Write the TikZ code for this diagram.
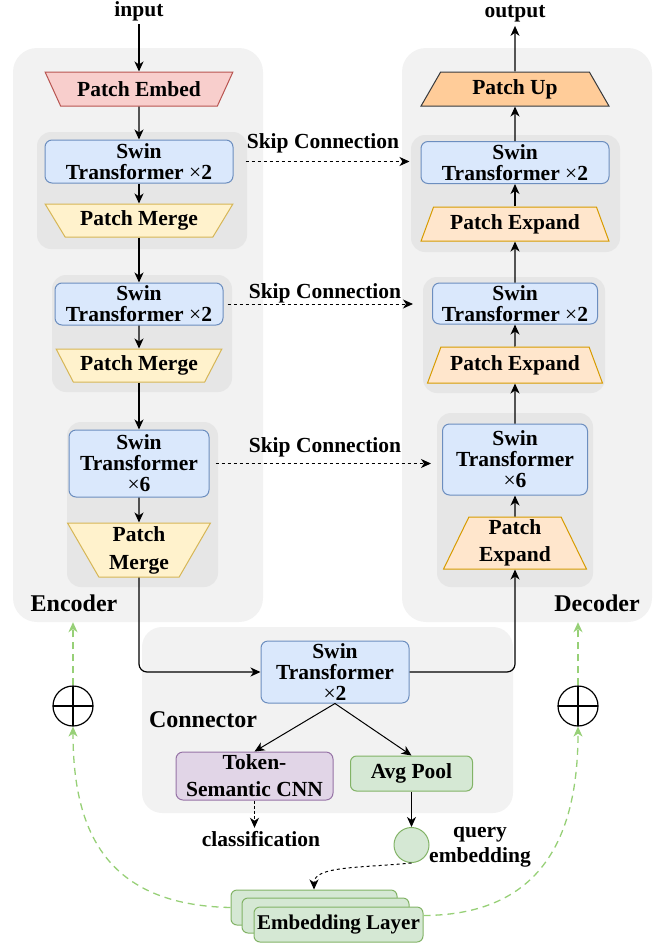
\documentclass[tikz,border=0pt]{standalone}
\usepackage{fontspec}
\setmainfont{Liberation Serif}
\usepackage{tikz}
\usetikzlibrary{positioning, arrows.meta, shapes.geometric, calc}

\definecolor{panelgray}{HTML}{F2F2F2}
\definecolor{groupgray}{HTML}{E6E6E6}
\definecolor{swinfill}{HTML}{DAE8FC}
\definecolor{swinline}{HTML}{6C8EBF}
\definecolor{embedfill}{HTML}{F8CECC}
\definecolor{embedline}{HTML}{B85450}
\definecolor{mergefill}{HTML}{FFF2CC}
\definecolor{mergeline}{HTML}{D6B656}
\definecolor{upfill}{HTML}{FFCC99}
\definecolor{upline}{HTML}{36393D}
\definecolor{expfill}{HTML}{FFE6CC}
\definecolor{expline}{HTML}{D79B00}
\definecolor{cnnfill}{HTML}{E1D5E7}
\definecolor{cnnline}{HTML}{9673A6}
\definecolor{poolfill}{HTML}{D5E8D4}
\definecolor{poolline}{HTML}{82B366}
\definecolor{qgreen}{HTML}{97D077}

\newcommand{\tms}{{\mdseries\char"00D7}}

\begin{document}
\begin{tikzpicture}[
  x=1pt, y=-1pt,
  font=\bfseries\fontsize{21.5}{27}\selectfont,
  panel/.style={fill=panelgray, rounded corners=24pt, inner sep=0pt},
  grp/.style={fill=groupgray, rounded corners=14pt, inner sep=0pt},
  swin/.style={draw=swinline, fill=swinfill, line width=1pt, rounded corners=7pt, align=center, inner sep=0pt, font=\bfseries\fontsize{21.5}{21}\selectfont},
  trap/.style={trapezium, trapezium stretches=true, line width=1pt, align=center, inner sep=0pt},
  merge/.style={trap, draw=mergeline, fill=mergefill, shape border rotate=180},
  expand/.style={trap, draw=expline, fill=expfill},
  pool/.style={draw=poolline, fill=poolfill, line width=1pt, rounded corners=6pt, align=center, inner sep=0pt},
  biglabel/.style={font=\bfseries\fontsize{24}{28}\selectfont},
  arr/.style={-{Stealth[length=10pt, width=9pt, inset=3pt]}, line width=1.2pt},
  skiparr/.style={arr, dash pattern=on 3pt off 3pt, line width=1pt},
  garr/.style={-{Stealth[length=10pt, width=9pt, inset=3pt]}, draw=qgreen, line width=1.3pt, dash pattern=on 7pt off 5pt},
  oplus/.style={circle, draw, line width=1.2pt, minimum size=40pt, inner sep=0pt,
    path picture={\draw[line width=1.2pt] (path picture bounding box.north) -- (path picture bounding box.south)
      (path picture bounding box.west) -- (path picture bounding box.east);}}
]
\useasboundingbox (0,0) rectangle (657,945);

% Panels
\node[panel, minimum width=250pt, minimum height=574pt] (encpanel) at (138,335) {};
\node[panel, minimum width=250pt, minimum height=574pt] (decpanel) at (527,335) {};
\node[panel, rounded corners=20pt, minimum width=371pt, minimum height=186pt] (conpanel) at (327.5,720) {};

% Stage groups
\node[grp, minimum width=210pt, minimum height=117pt] (encg1) at (142,190.5) {};
\node[grp, minimum width=180pt, minimum height=117pt] (encg2) at (142,333.5) {};
\node[grp, minimum width=151pt, minimum height=165pt] (encg3) at (142.5,504.5) {};
\node[grp, minimum width=209pt, minimum height=117pt] (decg1) at (515.5,193.5) {};
\node[grp, minimum width=182pt, minimum height=116pt] (decg2) at (514,335) {};
\node[grp, minimum width=156pt, minimum height=174pt] (decg3) at (515,500) {};

% Encoder
\node (input) at (139,11) {input};
\node[trap, draw=embedline, fill=embedfill, shape border rotate=180, trapezium angle=51, minimum width=188pt, minimum height=34pt] (pemb) at (139,89) {Patch Embed};
\node[swin, minimum width=188pt, minimum height=43pt] (encs1) at (139,161.5) {Swin\\Transformer \tms2};
\node[merge, trapezium angle=51, minimum width=188pt, minimum height=33pt] (pm1) at (139,220.5) {Patch Merge};
\node[swin, minimum width=168pt, minimum height=42pt] (encs2) at (139,304) {Swin\\Transformer \tms2};
\node[merge, trapezium angle=52, minimum width=166pt, minimum height=33pt] (pm2) at (139,365.5) {Patch Merge};
\node[swin, minimum width=140pt, minimum height=67pt] (encs3) at (139,463.5) {Swin\\Transformer\\\tms6};
\node[merge, trapezium angle=64, minimum width=143pt, minimum height=54pt, font=\bfseries\fontsize{21.5}{28}\selectfont] (pm3) at (139,550) {Patch\\Merge};
\node[biglabel] (enclabel) at (74,603) {Encoder};

% Decoder
\node (output) at (515,14) {output};
\node[trap, draw=upline, fill=upfill, trapezium angle=60, minimum width=188pt, minimum height=34pt] (pup) at (515,89) {Patch Up};
\node[swin, minimum width=188pt, minimum height=42pt] (decs1) at (515,162.5) {Swin\\Transformer \tms2};
\node[expand, trapezium angle=63, minimum width=188pt, minimum height=34pt] (pe1) at (515,224) {Patch Expand};
\node[swin, minimum width=165pt, minimum height=41pt] (decs2) at (515,303.5) {Swin\\Transformer \tms2};
\node[expand, trapezium angle=59, minimum width=175pt, minimum height=36pt] (pe2) at (515,365) {Patch Expand};
\node[swin, minimum width=145pt, minimum height=71pt] (decs3) at (515,459.5) {Swin\\Transformer\\\tms6};
\node[expand, trapezium angle=67, minimum width=143pt, minimum height=52pt] (pe3) at (515,543) {Patch\\Expand};
\node[biglabel] (declabel) at (597,603) {Decoder};

% Skip connections
\node (skip1) at (323,143) {Skip Connection};
\node (skip2) at (325,293) {Skip Connection};
\node (skip3) at (325,447) {Skip Connection};
\draw[skiparr, shorten <=12pt, shorten >=11pt] (encs1.east) -- (encs1.east -| decs1.west);
\draw[skiparr, shorten <=4pt, shorten >=19pt] (encs2.east) -- (encs2.east -| decs2.west);
\draw[skiparr, shorten <=6pt, shorten >=11pt] (encs3.east) -- (encs3.east -| decs3.west);

% Connector
\node[swin, minimum width=148pt, minimum height=62pt] (cons) at (335,672) {Swin\\Transformer\\\tms2};
\node[biglabel] (conlabel) at (203,720) {Connector};
\node[draw=cnnline, fill=cnnfill, line width=1pt, rounded corners=7pt, align=center, inner sep=0pt, minimum width=157pt, minimum height=48pt] (tcnn) at (254.5,776) {Token-\\Semantic CNN};
\node[pool, minimum width=122pt, minimum height=35pt] (avg) at (411.5,773.5) {Avg Pool};
\node (cls) at (261,839) {classification};
\node[circle, draw=poolline, fill=poolfill, line width=1pt, minimum size=35pt, inner sep=0pt] (qcirc) at (411.5,845) {};
\node[align=center, font=\bfseries\fontsize{21.5}{25}\selectfont] (qlabel) at (480,847) {query\\embedding};

% Embedding layer stack
\node[pool, minimum width=166pt, minimum height=35pt] (embback) at (314,907.5) {};
\node[pool, minimum width=167pt, minimum height=35pt] (embmid) at (325.5,915.5) {};
\node[pool, minimum width=169pt, minimum height=35pt, font=\bfseries\fontsize{21}{25}\selectfont] (embfront) at (338.5,924.5) {Embedding Layer};

% Fusion
\node[oplus] (oplusL) at (73,706) {};
\node[oplus] (oplusR) at (578,706) {};

% Main flow
\draw[arr] (input) -- (pemb);
\draw[arr] (pemb) -- (encs1);
\draw[arr] (encs1) -- (pm1);
\draw[arr] (pm1) -- (encs2);
\draw[arr] (encs2) -- (pm2);
\draw[arr] (pm2) -- (encs3);
\draw[arr] (encs3) -- (pm3);
\draw[arr, rounded corners=8pt] (pm3.south) |- (cons.west);
\draw[arr, rounded corners=8pt] (cons.east) -| (pe3.south);
\draw[arr] (pe3) -- (decs3);
\draw[arr] (decs3) -- (pe2);
\draw[arr] (pe2) -- (decs2);
\draw[arr] (decs2) -- (pe1);
\draw[arr] (pe1) -- (decs1);
\draw[arr] (decs1) -- (pup);
\draw[arr] (pup) -- (output);

% Heads
\draw[arr, line width=1pt] (cons.south) -- (tcnn.north);
\draw[arr, line width=1pt] (cons.south) -- (avg.north);
\draw[arr, line width=1pt, dash pattern=on 3pt off 2pt] (tcnn.south) -- (tcnn.south |- cls.north);
\draw[arr] (avg) -- (qcirc);
\draw[arr, line width=1pt, dash pattern=on 3pt off 3pt] (qcirc.south) .. controls (360,868) and (314,866) .. (embback.north);

% Query embedding feedback
\draw[garr] (embback.west) .. controls (106,905) and (73,831) .. (oplusL.south);
\draw[garr] ([yshift=9pt]embfront.east) .. controls (542,915) and (578,836) .. (oplusR.south);
\draw[garr] (oplusL.north) -- (oplusL.north |- encpanel.south);
\draw[garr] (oplusR.north) -- (oplusR.north |- decpanel.south);

\end{tikzpicture}
\end{document}
